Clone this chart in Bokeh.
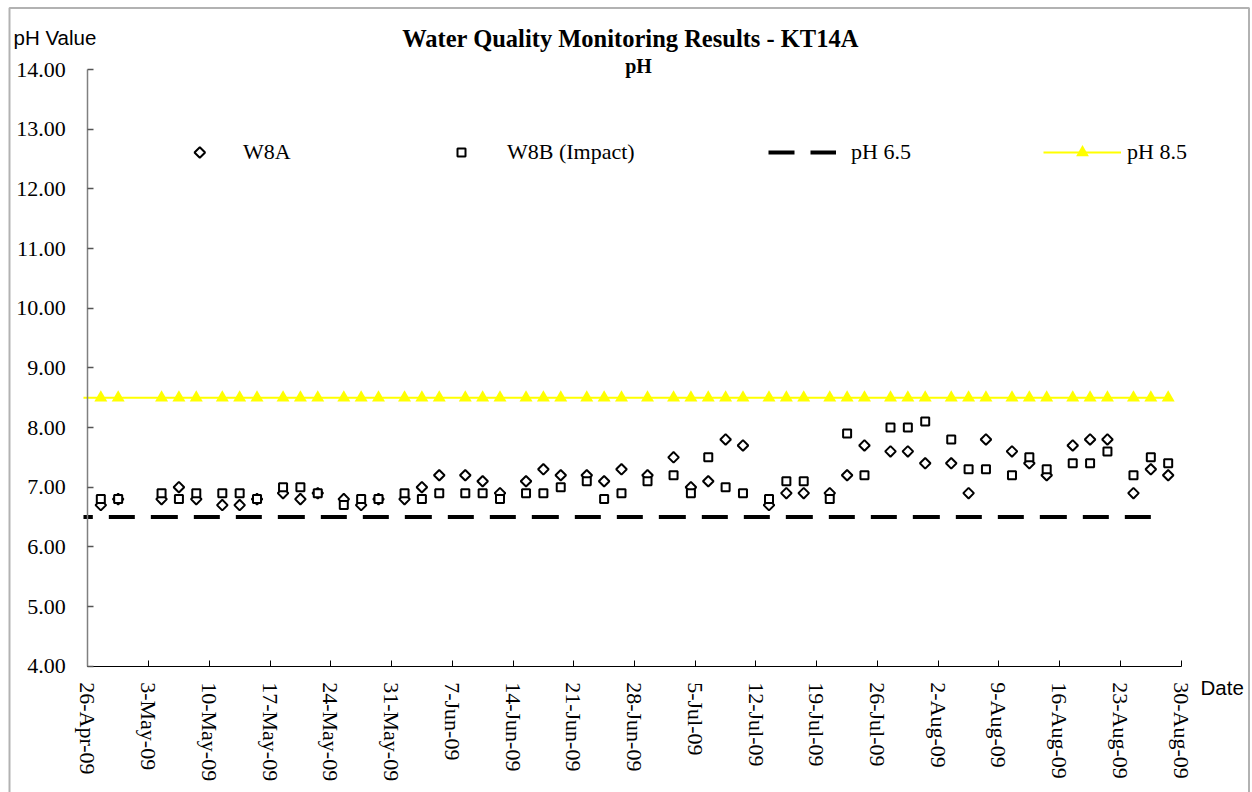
import math
from datetime import datetime

from bokeh.plotting import figure
from bokeh.models import (Label, Legend, LegendItem, FixedTicker, BoxAnnotation,
                          PrintfTickFormatter)
from bokeh.embed import file_html
from bokeh.resources import INLINE

# ---------------- data ----------------
dates = ["27-Apr-09", "29-Apr-09", "4-May-09", "6-May-09", "8-May-09", "11-May-09",
         "13-May-09", "15-May-09", "18-May-09", "20-May-09", "22-May-09", "25-May-09",
         "27-May-09", "29-May-09", "1-Jun-09", "3-Jun-09", "5-Jun-09", "8-Jun-09",
         "10-Jun-09", "12-Jun-09", "15-Jun-09", "17-Jun-09", "19-Jun-09", "22-Jun-09",
         "24-Jun-09", "26-Jun-09", "29-Jun-09", "2-Jul-09", "4-Jul-09", "6-Jul-09",
         "8-Jul-09", "10-Jul-09", "13-Jul-09", "15-Jul-09", "17-Jul-09", "20-Jul-09",
         "22-Jul-09", "24-Jul-09", "27-Jul-09", "29-Jul-09", "31-Jul-09", "3-Aug-09",
         "5-Aug-09", "7-Aug-09", "10-Aug-09", "12-Aug-09", "14-Aug-09", "17-Aug-09",
         "19-Aug-09", "21-Aug-09", "24-Aug-09", "26-Aug-09", "28-Aug-09"]

w8a = [6.7, 6.8, 6.8, 7.0, 6.8, 6.7, 6.7, 6.8, 6.9, 6.8, 6.9, 6.8, 6.7, 6.8,
       6.8, 7.0, 7.2, 7.2, 7.1, 6.9, 7.1, 7.3, 7.2, 7.2, 7.1, 7.3, 7.2,
       7.5, 7.0, 7.1, 7.8, 7.7, 6.7, 6.9, 6.9, 6.9, 7.2, 7.7, 7.6, 7.6, 7.4,
       7.4, 6.9, 7.8, 7.6, 7.4, 7.2, 7.7, 7.8, 7.8, 6.9, 7.3, 7.2]

w8b = [6.8, 6.8, 6.9, 6.8, 6.9, 6.9, 6.9, 6.8, 7.0, 7.0, 6.9, 6.7, 6.8, 6.8,
       6.9, 6.8, 6.9, 6.9, 6.9, 6.8, 6.9, 6.9, 7.0, 7.1, 6.8, 6.9, 7.1,
       7.2, 6.9, 7.5, 7.0, 6.9, 6.8, 7.1, 7.1, 6.8, 7.9, 7.2, 8.0, 8.0, 8.1,
       7.8, 7.3, 7.3, 7.2, 7.5, 7.3, 7.4, 7.4, 7.6, 7.2, 7.5, 7.4]

limit_low = 6.5
limit_high = 8.5
# the dashed limit line is traced from its last date back to its first
low_line_dates = ["26-Aug-09", "25-Apr-09"]
high_line_dates = ["25-Apr-09", "28-Aug-09"]

x_tick_labels = ["26-Apr-09", "3-May-09", "10-May-09", "17-May-09", "24-May-09",
                 "31-May-09", "7-Jun-09", "14-Jun-09", "21-Jun-09", "28-Jun-09",
                 "5-Jul-09", "12-Jul-09", "19-Jul-09", "26-Jul-09", "2-Aug-09",
                 "9-Aug-09", "16-Aug-09", "23-Aug-09", "30-Aug-09"]
y_ticks = [4, 5, 6, 7, 8, 9, 10, 11, 12, 13, 14]

title_text = "Water Quality Monitoring Results - KT14A"
subtitle_text = "pH"
y_title = "pH Value"
x_title = "Date"

# ---------------- helpers ----------------
origin = datetime.strptime(x_tick_labels[0], "%d-%b-%y")


def day_of(s):
    return (datetime.strptime(s, "%d-%b-%y") - origin).days


# samples are plotted at the middle of their day (date axis)
xs = [day_of(d) + 0.5 for d in dates]
low_x = [day_of(d) + 0.5 for d in low_line_dates]
high_x = [day_of(d) + 0.5 for d in high_line_dates]
ph85 = [limit_high for _ in dates]
tick_pos = [day_of(t) for t in x_tick_labels]

SERIF = "Liberation Serif"
SANS = "Liberation Sans"

# ---------------- page geometry (pixels) ----------------
W, H = 1252, 792
AX_X0 = 87.3     # x pixel of the first date tick / y axis
AX_X1 = 1180.7   # x pixel of the last date tick
AX_Y0 = 665.7    # y pixel of 4.00 / x axis
AX_Y1 = 69.0     # y pixel of 14.00

ppd = (AX_X1 - AX_X0) / (tick_pos[-1] - tick_pos[0])
ppu = (AX_Y0 - AX_Y1) / (y_ticks[-1] - y_ticks[0])
x_start = tick_pos[0] - AX_X0 / ppd
x_end = tick_pos[0] + (W - AX_X0) / ppd
y_start = y_ticks[0] - (H - AX_Y0) / ppu
y_end = y_ticks[-1] + AX_Y1 / ppu


def up(page_y):
    return H - page_y


# ---------------- figure ----------------
p = figure(width=W, height=H, x_range=(x_start, x_end), y_range=(y_start, y_end),
           output_backend="svg", toolbar_location=None,
           min_border_left=0, min_border_right=0, min_border_top=0, min_border_bottom=0)
p.xgrid.visible = False
p.ygrid.visible = False
p.outline_line_color = None
p.background_fill_color = "white"
p.border_fill_color = "white"

# x axis (drawn at pH 4.00)
xa = p.xaxis[0]
xa.fixed_location = y_ticks[0]
xa.bounds = (tick_pos[0], tick_pos[-1])
xa.ticker = FixedTicker(ticks=tick_pos)
xa.major_label_overrides = {t: lab for t, lab in zip(tick_pos, x_tick_labels)}
xa.major_label_orientation = -math.pi / 2
xa.major_label_text_font = SERIF
xa.major_label_text_font_size = "22px"
xa.major_label_text_color = "black"
xa.major_label_standoff = 16
xa.axis_line_color = "black"
xa.axis_line_width = 1
xa.major_tick_line_color = "black"
xa.major_tick_in = 6
xa.major_tick_out = 0
xa.minor_tick_line_color = None

# y axis (drawn at the first date)
ya = p.yaxis[0]
ya.fixed_location = tick_pos[0]
ya.bounds = (y_ticks[0], y_ticks[-1])
ya.ticker = FixedTicker(ticks=y_ticks)
ya.formatter = PrintfTickFormatter(format="%.2f")
ya.major_label_text_font = SERIF
ya.major_label_text_font_size = "22px"
ya.major_label_text_color = "black"
ya.major_label_standoff = 22
ya.axis_line_color = "#808080"
ya.axis_line_width = 1.5
ya.major_tick_line_color = "#555555"
ya.major_tick_line_width = 1.5
ya.major_tick_in = 6
ya.major_tick_out = 0
ya.minor_tick_line_color = None

# ---------------- glyphs ----------------
DIAMOND = dict(marker="square", angle=math.pi / 4, size=7.5,
               line_color="black", line_width=2, fill_color="white")
SQUARE = dict(marker="square", size=8, line_color="black", line_width=2,
              fill_color="white")

r_a = p.scatter(xs, w8a, **DIAMOND)
r_b = p.scatter(xs, w8b, **SQUARE)
r_low = p.line(low_x, [limit_low, limit_low], line_color="black", line_width=4,
               line_dash="26 16 26 16 27 16")
r_high = p.line(high_x, [limit_high, limit_high], line_color="#FFFF00", line_width=2)
r_tri = p.scatter(xs, ph85, marker="triangle", size=13,
                  fill_color="#FFFF00", line_color=None)

# legend key for W8A (bokeh legends draw markers unrotated, so the diamond key is drawn here)
LEG_Y = 152
key_a = p.scatter([x_start + 199.3 / ppd], [y_end - LEG_Y / ppu], **DIAMOND)
r_a_leg = p.scatter([], [], marker="square", size=1, line_alpha=0, fill_alpha=0)


# ---------------- legend ----------------
def add_legend(label, renderers, x, gw, gh, standoff, cy=LEG_Y):
    leg = Legend(items=[LegendItem(label=label, renderers=renderers)],
                 location=(x, up(cy) - gh / 2), orientation="horizontal",
                 glyph_width=gw, glyph_height=gh, label_height=gh,
                 label_standoff=standoff, padding=0, margin=0, spacing=0,
                 border_line_color=None, background_fill_alpha=0,
                 label_text_font=SERIF, label_text_font_size="22px",
                 label_text_color="black")
    p.add_layout(leg)


add_legend("W8A", [r_a_leg], 190, 18, 26, 35)
add_legend("W8B (Impact)", [r_b], 451, 20, 26, 36)
add_legend("pH 6.5", [r_low], 768, 68, 26, 15)
add_legend("pH 8.5", [r_high, r_tri], 1043, 78, 32, 6)

# ---------------- texts ----------------
p.add_layout(Label(x=630, y=up(38.3), x_units="screen", y_units="screen", text=title_text,
                   text_font=SERIF, text_font_style="bold", text_font_size="24.5px",
                   text_align="center", text_baseline="alphabetic", text_color="black"))
p.add_layout(Label(x=638, y=up(65), x_units="screen", y_units="screen", text=subtitle_text,
                   text_font=SERIF, text_font_style="bold", text_font_size="20px",
                   text_align="center", text_baseline="alphabetic", text_color="black"))
p.add_layout(Label(x=13, y=up(36.7), x_units="screen", y_units="screen", text=y_title,
                   text_font=SANS, text_font_size="20.5px",
                   text_align="left", text_baseline="alphabetic", text_color="black"))
p.add_layout(Label(x=1200, y=up(686.7), x_units="screen", y_units="screen", text=x_title,
                   text_font=SANS, text_font_size="20.5px",
                   text_align="left", text_baseline="alphabetic", text_color="black"))

# outer chart border (its bottom edge lies below the picture)
p.add_layout(BoxAnnotation(left=9, right=1248.5, top=up(7.5), bottom=-20,
                           left_units="screen", right_units="screen",
                           top_units="screen", bottom_units="screen",
                           fill_alpha=0, line_color="black", line_width=2))

open("out.html", "w").write(file_html(p, INLINE))
